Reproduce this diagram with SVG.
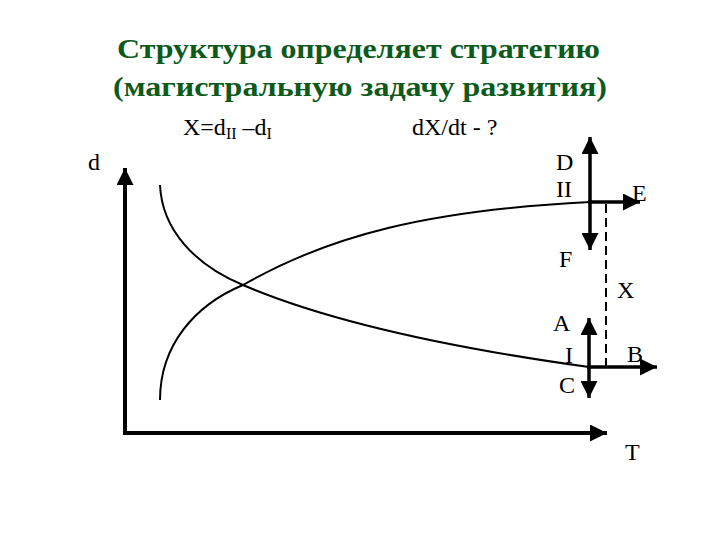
<svg xmlns="http://www.w3.org/2000/svg" width="720" height="540" viewBox="0 0 720 540">
<defs>
<marker id="ah" viewBox="0 0 10 10" refX="10" refY="5" markerWidth="17" markerHeight="17" markerUnits="userSpaceOnUse" orient="auto">
<path d="M0,0 L10,5 L0,10 Z" fill="#000"/>
</marker>
<style>
text{font-family:'Liberation Serif','DejaVu Serif',serif}
.t{fill:#000;font-size:24px}
.title{fill:#0d5a1b;font-size:28px;font-weight:bold}
.ax{stroke:#000;stroke-width:4;fill:none}
.cv{stroke:#000;stroke-width:2;fill:none}
.ar{stroke:#000;stroke-width:3.5;fill:none}
</style>
</defs>
<rect width="720" height="540" fill="#fff"/>
<g id="title">
<text class="title" x="117" y="58" textLength="483" lengthAdjust="spacingAndGlyphs">Структура определяет стратегию</text>
<text class="title" x="113" y="96" textLength="494" lengthAdjust="spacingAndGlyphs">(магистральную задачу развития)</text>
</g>
<g id="formulas">
<text class="t" x="183" y="135">X=d<tspan font-size="16" dy="4">II</tspan><tspan dy="-4"> –d</tspan><tspan font-size="16" dy="4">I</tspan></text>
<text class="t" x="412" y="135">dX/dt  - ?</text>
</g>
<g id="axes">
<line class="ax" x1="125" y1="433" x2="125" y2="168" marker-end="url(#ah)"/>
<line class="ax" x1="123" y1="433" x2="607" y2="433" marker-end="url(#ah)"/>
<text class="t" x="88" y="170">d</text>
<text class="t" x="625" y="460">T</text>
</g>
<g id="curves">
<path id="curve-I" class="cv" d="M160,185 C162,230 195,265 243,285 C320,318 430,345 589,367"/>
<path id="curve-II" class="cv" d="M160,400 C160,345 195,305 243,285 C330,235 430,210 590,202"/>
</g>
<g id="node-II">
<line class="ar" x1="590" y1="202" x2="590" y2="137" marker-end="url(#ah)"/>
<line class="ar" x1="590" y1="202" x2="590" y2="250" marker-end="url(#ah)"/>
<line class="ar" x1="588" y1="202" x2="640" y2="202" marker-end="url(#ah)"/>
<text class="t" x="556" y="170">D</text>
<text class="t" x="556" y="197">II</text>
<text class="t" x="632" y="201">E</text>
<text class="t" x="559" y="267">F</text>
</g>
<g id="node-I">
<line class="ar" x1="589" y1="367" x2="589" y2="318" marker-end="url(#ah)"/>
<line class="ar" x1="589" y1="367" x2="589" y2="398" marker-end="url(#ah)"/>
<line class="ar" x1="587" y1="367" x2="657" y2="367" marker-end="url(#ah)"/>
<text class="t" x="553" y="331">A</text>
<text class="t" x="565" y="363">I</text>
<text class="t" x="627" y="362">B</text>
<text class="t" x="559" y="393">C</text>
</g>
<g id="connectors">
<line stroke="#000" stroke-width="2" stroke-dasharray="9,5" x1="606" y1="204" x2="606" y2="366"/>
<text class="t" x="617" y="298">X</text>
</g>
</svg>
